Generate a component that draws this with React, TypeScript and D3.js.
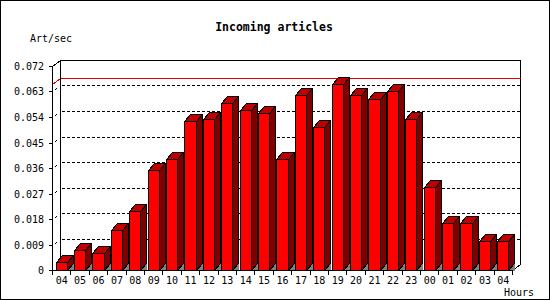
import React from "react";
import * as d3 from "d3";

const hours = ["04","05","06","07","08","09","10","11","12","13","14","15","16","17","18","19","20","21","22","23","00","01","02","03","04"];
const rates = [0.0027,0.0071,0.0059,0.0140,0.0208,0.0354,0.0393,0.0527,0.0534,0.0591,0.0563,0.0555,0.0393,0.0619,0.0506,0.0658,0.0619,0.0605,0.0630,0.0533,0.0293,0.0165,0.0165,0.0103,0.0103];
const yTicks = [0,0.009,0.018,0.027,0.036,0.045,0.054,0.063,0.072];
const yTickLabels = ["0","0.009","0.018","0.027","0.036","0.045","0.054","0.063","0.072"];
const title = "Incoming articles";
const yUnit = "Art/sec";
const xUnit = "Hours";

const W = 550, H = 300;
const WDX = 8, WDY = 6; // wall depth
const BDX = 6, BDY = 7; // bar depth
const snap = (v: number) => Math.round(v - 0.5) + 0.5;
const mono = "'DejaVu Sans Mono', 'Liberation Mono', monospace";

export default function App() {
  const x = d3.scaleBand<string>().domain(hours.map((_, i) => String(i))).range([52.5, 512.5]).padding(0);
  const y = d3.scaleLinear().domain([0, 0.072]).range([270.5, 66.5]);
  const bw = x.bandwidth();
  const x0 = 52.5, x1 = 512.5;
  const yb = snap(y(0));
  const yt = snap(y(0.072));
  const maxV = d3.max(rates) as number;
  const yMax = snap(y(maxV));

  return (
    <svg width={W} height={H} style={{ position: "fixed", left: 0, top: 0, background: "#fff" }} shapeRendering="crispEdges">
      <rect x={0.5} y={0.5} width={W - 1} height={H - 1} fill="#fff" stroke="#000" />
      <text x={274} y={31} textAnchor="middle" fontFamily={mono} fontWeight="bold" fontSize={11.5}>{title}</text>
      <text x={30} y={42} fontFamily={mono} fontSize={10}>{yUnit}</text>
      <text x={504} y={295.5} fontFamily={mono} fontSize={10}>{xUnit}</text>

      {/* back wall */}
      <polyline points={`${x0 + WDX},${yb - WDY} ${x0 + WDX},${yt - WDY} ${x1 + WDX},${yt - WDY} ${x1 + WDX},${yb - WDY} ${x1},${yb}`} fill="none" stroke="#000" />
      <line x1={x0} y1={yt} x2={x0 + WDX} y2={yt - WDY} stroke="#000" />

      {/* grid lines */}
      {yTicks.slice(1, -1).map((t, i) => {
        const yy = snap(y(t));
        return (
          <g key={i}>
            <line x1={x0 + WDX + 1} y1={yy - WDY} x2={x1 + WDX} y2={yy - WDY} stroke="#000" strokeDasharray="3,2" />
            <line x1={x0 + WDX * 0.3} y1={yy - WDY * 0.3} x2={x0 + WDX * 0.55} y2={yy - WDY * 0.55} stroke="#000" />
          </g>
        );
      })}

      {/* max line */}
      <line x1={x0} y1={yMax} x2={x0 + WDX} y2={yMax - WDY} stroke="#e00000" />
      <line x1={x0 + WDX} y1={yMax - WDY} x2={x1 + WDX} y2={yMax - WDY} stroke="#e00000" />

      {/* bars */}
      {rates.map((v, i) => {
        const bx = x(String(i)) as number;
        const xl = snap(bx + 0.2 * bw);
        const xr = snap(bx + 0.8 * bw);
        const top = snap(y(v));
        return (
          <g key={i}>
            <polygon points={`${xr},${yb} ${xr + BDX},${yb - BDY} ${xr + BDX},${yb}`} fill="#808080" />
            <polygon points={`${xr},${top} ${xr + BDX},${top - BDY} ${xr + BDX},${yb - BDY} ${xr},${yb}`} fill="#800000" stroke="#000" />
            <polygon points={`${xl},${top} ${xl + BDX},${top - BDY} ${xr + BDX},${top - BDY} ${xr},${top}`} fill="#c00000" stroke="#000" />
            <rect x={xl} y={top} width={xr - xl} height={yb - top} fill="#ff0000" stroke="#000" />
          </g>
        );
      })}

      {/* axes */}
      <line x1={x0} y1={yt} x2={x0} y2={yb} stroke="#000" />
      <line x1={x0} y1={yb} x2={x1} y2={yb} stroke="#000" />
      {yTicks.map((t, i) => {
        const yy = snap(y(t));
        return (
          <g key={i}>
            <line x1={x0 - 4} y1={yy} x2={x0} y2={yy} stroke="#000" />
            <text x={44} y={yy + 3.5} textAnchor="end" fontFamily={mono} fontSize={10}>{yTickLabels[i]}</text>
          </g>
        );
      })}
      {hours.map((h, i) => {
        const bx = x(String(i)) as number;
        return (
          <g key={i}>
            <line x1={snap(bx)} y1={yb} x2={snap(bx)} y2={yb + 4} stroke="#000" />
            <text x={bx + bw / 2} y={283.5} textAnchor="middle" fontFamily={mono} fontSize={10}>{h}</text>
          </g>
        );
      })}
      <line x1={snap(x1)} y1={yb} x2={snap(x1)} y2={yb + 4} stroke="#000" />
    </svg>
  );
}
